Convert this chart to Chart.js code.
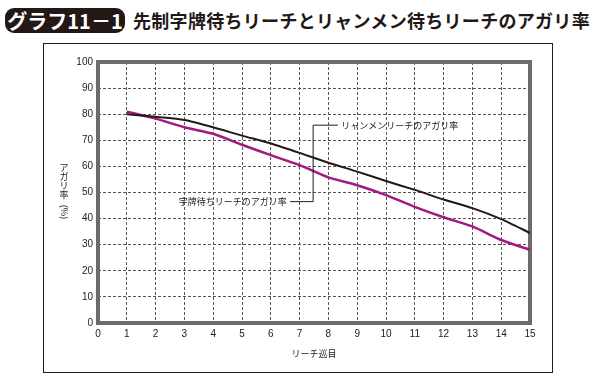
<!DOCTYPE html>
<html>
<head>
<meta charset="utf-8">
<script src="https://cdn.jsdelivr.net/npm/chart.js@4.4.1/dist/chart.umd.min.js"></script>
<style>
  body { margin: 0; background: #fff; width: 602px; height: 387px; overflow: hidden; position: relative; font-family: "Noto Sans CJK JP", sans-serif; }
  #badge { position: absolute; left: 5px; top: 8px; width: 120px; height: 25px; background: #231815; border-radius: 9px; color: #fff; font-weight: bold; font-size: 20px; line-height: 25px; text-align: center; }
  #title { position: absolute; left: 133px; top: 8px; font-weight: bold; font-size: 18px; line-height: 25px; color: #231815; letter-spacing: 0.3px; white-space: nowrap; }
  #grafico { position: absolute; left: 0; top: 0; }
</style>
</head>
<body>
<div id="badge">グラフ11－1</div>
<div id="title">先制字牌待ちリーチとリャンメン待ちリーチのアガリ率</div>
<canvas id="grafico" width="602" height="387"></canvas>
<script>
// リーチ巡目
const junme = [1, 2, 3, 4, 5, 6, 7, 8, 9, 10, 11, 12, 13, 14, 15];
// リャンメンリーチのアガリ率 (%)
const ryanmen = [80, 79, 77.8, 75, 71.8, 68.8, 65.2, 61.4, 58, 54.4, 51, 47.3, 44, 39.8, 34.5];
// 字牌待ちリーチのアガリ率 (%)
const jihai = [81, 78.3, 75, 72.5, 68.3, 64.3, 60.5, 55.8, 52.8, 49, 44.5, 40.5, 37, 31.8, 28];
const yTicks = [0, 10, 20, 30, 40, 50, 60, 70, 80, 90, 100];

const tinta = '#231815';
const fonteNum = "'Liberation Sans Narrow', 'Liberation Sans', sans-serif";
const fonteJp = "'Noto Sans CJK JP', sans-serif";

// 枠・縦書きタイトル・引き出し線
const extras = {
    id: 'extras',
    beforeDatasetsDraw(chart) {
        const { ctx, chartArea: a } = chart;
        ctx.save();
        ctx.strokeStyle = '#6b6b6b';
        ctx.lineWidth = 4;
        ctx.strokeRect(a.left, a.top, a.right - a.left, a.bottom - a.top);
        ctx.restore();
    },
    afterDraw(chart) {
        const { ctx, chartArea: a, scales: { x, y } } = chart;
        ctx.save();
        // 外枠
        ctx.strokeStyle = tinta;
        ctx.lineWidth = 1;
        ctx.strokeRect(43.5, 43.5, 509, 329);

        // 縦軸タイトル (縦書き)
        ctx.fillStyle = tinta;
        ctx.font = '9px ' + fonteJp;
        ctx.textAlign = 'center';
        ctx.textBaseline = 'middle';
        const cx = 64;
        let cy = 168;
        for (const c of ['ア', 'ガ', 'リ', '率']) {
            ctx.fillText(c, cx, cy);
            cy += 9;
        }
        ctx.save();
        ctx.translate(cx, cy + 8);
        ctx.rotate(Math.PI / 2);
        ctx.fillText('(%)', 0, 0);
        ctx.restore();

        // 横軸タイトル
        ctx.fillText('リーチ巡目', (a.left + a.right) / 2, 354);

        // 引き出し線
        const vx = x.getPixelForValue(7.47);
        const yTop = y.getPixelForValue(75.8);
        const yBot = y.getPixelForValue(46.5);
        ctx.strokeStyle = tinta;
        ctx.lineWidth = 1;
        ctx.beginPath();
        ctx.moveTo(x.getPixelForValue(8.33), yTop);
        ctx.lineTo(vx, yTop);
        ctx.lineTo(vx, yBot);
        ctx.lineTo(x.getPixelForValue(6.67), yBot);
        ctx.stroke();

        ctx.textAlign = 'left';
        ctx.fillText('リャンメンリーチのアガリ率', x.getPixelForValue(8.45), yTop);
        ctx.textAlign = 'right';
        ctx.fillText('字牌待ちリーチのアガリ率', x.getPixelForValue(6.55), yBot);
        ctx.restore();
    }
};

new Chart(document.getElementById('grafico').getContext('2d'), {
    type: 'line',
    data: {
        datasets: [{
            label: 'リャンメンリーチのアガリ率',
            data: junme.map((j, i) => ({ x: j, y: ryanmen[i] })),
            borderColor: tinta,
            borderWidth: 2,
            pointRadius: 0,
            tension: 0.2
        }, {
            label: '字牌待ちリーチのアガリ率',
            data: junme.map((j, i) => ({ x: j, y: jihai[i] })),
            borderColor: '#a3197d',
            borderWidth: 2.5,
            pointRadius: 0,
            tension: 0.2
        }]
    },
    options: {
        responsive: false,
        animation: false,
        layout: { padding: { left: 60, right: 72, top: 62, bottom: 46 } },
        plugins: { legend: { display: false }, tooltip: { enabled: false } },
        scales: {
            x: {
                type: 'linear',
                min: 0,
                max: 15,
                afterFit: s => { s.height = 18; },
                ticks: { stepSize: 1, color: tinta, font: { family: fonteNum, size: 10 }, padding: 5, maxRotation: 0 },
                grid: { color: '#555', lineWidth: 1, drawTicks: false },
                border: { display: false, dash: [3, 2] }
            },
            y: {
                min: 0,
                max: 100,
                afterFit: s => { s.width = 38; },
                afterBuildTicks: s => { s.ticks = yTicks.map(v => ({ value: v })); },
                ticks: { color: tinta, font: { family: fonteNum, size: 10 }, padding: 5 },
                grid: { color: '#555', lineWidth: 1, drawTicks: false },
                border: { display: false, dash: [3, 2] }
            }
        }
    },
    plugins: [extras]
});
</script>
</body>
</html>
